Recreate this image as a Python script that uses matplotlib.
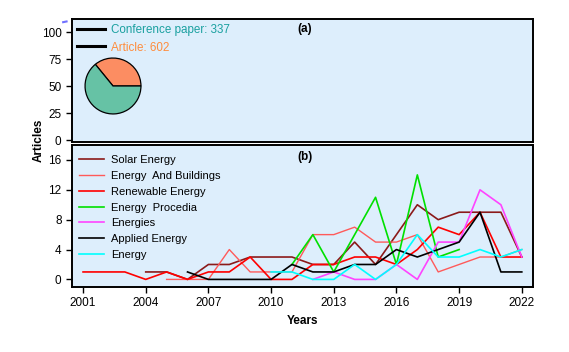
import numpy as np
import matplotlib
matplotlib.use("Agg")
import matplotlib.pyplot as plt
from matplotlib.lines import Line2D

plt.rcParams['font.family'] = ['Liberation Sans', 'DejaVu Sans']

# data
years = np.arange(2001, 2023)
nan = np.nan

solar_energy = [nan, nan, nan, 1, 1, 0, 2, 2, 3, 3, 3, 2, 2, 5, 2, 6, 10, 8, 9, 9, 9, 3]
energy_buildings = [nan, nan, nan, nan, 0, 0, 0, 4, 1, 1, 1, 6, 6, 7, 5, 5, 6, 1, 2, 3, 3, 4]
renewable_energy = [1, 1, 1, 0, 1, 0, 1, 1, 3, 0, 0, 2, 2, 3, 3, 2, 4, 7, 6, 9, 3, 3]
energy_procedia = [nan] * 10 + [2, 6, 1, 6, 11, 2, 14, 3, 4, nan, nan, nan]
energies = [nan] * 11 + [0, 1, 0, 0, 2, 0, 5, 5, 12, 10, 3]
applied_energy = [nan] * 5 + [1, 0, 0, 0, 0, 2, 1, 1, 2, 2, 4, 3, 4, 5, 9, 1, 1]
energy = [nan] * 9 + [1, 1, 0, 0, 2, 0, 2, 6, 3, 3, 4, 3, 4]

series_names = ["Solar Energy", "Energy  And Buildings", "Renewable Energy",
                "Energy  Procedia", "Energies", "Applied Energy", "Energy"]
series_values = [solar_energy, energy_buildings, renewable_energy,
                 energy_procedia, energies, applied_energy, energy]
series_colors = ["#8B1A1A", "#FF5A5A", "#FF0000", "#00E000", "#FF44FF", "#000000", "#00FFFF"]

doc_types = ["Conference paper", "Article"]
doc_counts = [337, 602]
doc_text_colors = ["#1AA0A0", "#FF8C3C"]
pie_colors = ["#FC8D62", "#66C2A5"]

bg = "#DDEEFC"

fig = plt.figure(figsize=(5.69, 3.52), dpi=100)
ax_a = fig.add_axes([0.1265, 0.598, 0.810, 0.348])
ax_b = fig.add_axes([0.1265, 0.185, 0.810, 0.403])

for ax in (ax_a, ax_b):
    ax.set_facecolor(bg)
    for sp in ax.spines.values():
        sp.set_linewidth(1.4)
    ax.tick_params(labelsize=8.5, length=4, width=1)
    ax.set_xlim(2000.47, 2022.53)

# panel (a)
ax_a.set_ylim(-1, 112)
ax_a.set_yticks([0, 25, 50, 75, 100])
ax_a.set_xticks([])
ax_a.text(0.505, 0.92, "(a)", transform=ax_a.transAxes, fontsize=8.5,
          fontweight="bold", ha="center", va="center")
handles = [Line2D([], [], color="black", lw=2.2) for _ in doc_types]
labels = ["%s: %d" % (t, c) for t, c in zip(doc_types, doc_counts)]
leg = ax_a.legend(handles, labels, loc="upper left", frameon=False, fontsize=8.4,
                  handlelength=2.4, handletextpad=0.5, borderaxespad=0.05,
                  labelspacing=0.45, bbox_to_anchor=(0.0, 1.0))
for txt, col in zip(leg.get_texts(), doc_text_colors):
    txt.set_color(col)

ax_pie = fig.add_axes([0.1485, 0.6747, 0.1002, 0.162])
ax_pie.pie(doc_counts, colors=pie_colors, startangle=0, counterclock=True,
           radius=1.0, wedgeprops=dict(edgecolor="black", linewidth=0.9))
ax_pie.set_xlim(-1.02, 1.02)
ax_pie.set_ylim(-1.02, 1.02)
ax_pie.set_aspect("equal")

# panel (b)
for name, vals, col in zip(series_names, series_values, series_colors):
    lw = 1.0 if name.startswith("Energy  And") else 1.2
    ax_b.plot(years, vals, color=col, lw=lw, label=name)
ax_b.set_ylim(-1, 18)
ax_b.set_yticks([0, 4, 8, 12, 16])
ax_b.set_xticks(np.arange(2001, 2023, 3))
ax_b.text(0.505, 0.915, "(b)", transform=ax_b.transAxes, fontsize=8.5,
          fontweight="bold", ha="center", va="center")
ax_b.legend(loc="upper left", frameon=False, fontsize=8.0, handlelength=2.3,
            handletextpad=0.6, borderaxespad=0.2, labelspacing=0.52,
            bbox_to_anchor=(0.0, 0.975))
ax_b.set_xlabel("Years", fontsize=8.5, fontweight="bold")

fig.text(0.068, 0.60, "Articles", rotation=90, fontsize=8.5, fontweight="bold",
         ha="center", va="center")

# small stray mark at top left
fig.add_artist(Line2D([0.111, 0.117], [0.937, 0.939], color="#7070FF", lw=1.5))

fig.savefig("out.png", dpi=100)
